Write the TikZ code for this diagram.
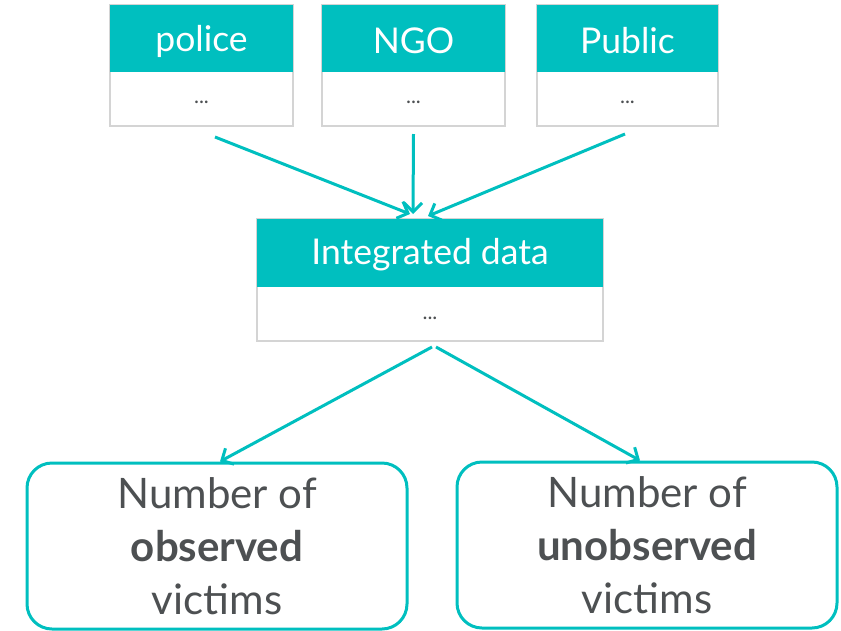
\documentclass[tikz,border=0pt]{standalone}
\usepackage{fontspec}
\setmainfont{Lato}
\usetikzlibrary{arrows.meta,calc}
\definecolor{tealc}{RGB}{0,191,191}
\definecolor{txt}{RGB}{77,80,82}
\definecolor{bord}{RGB}{212,212,212}
\begin{document}
\begin{tikzpicture}[x=1pt,y=-1pt,
  card/.style={draw=bord,line width=2pt,fill=white,inner sep=0pt,minimum height=121pt},
  head/.style={text=white,font=\fontsize{35.5}{40}\selectfont},
  dots/.style={text=txt,font=\fontsize{21}{24}\selectfont},
  result/.style={draw=tealc,line width=3pt,rounded corners=25pt,fill=white,inner sep=0pt,
     minimum width=380pt,minimum height=166pt,align=center,text=txt,
     font=\fontsize{42}{53}\selectfont},
  flow/.style={draw=tealc,line width=3pt,-{Straight Barb[length=9pt,width=18pt,line width=3pt]}}]
\useasboundingbox (0,0) rectangle (841,630);
% top cards
\node[card,minimum width=183pt] (police) at (201.5,65.5) {};
\node[card,minimum width=183pt] (ngo) at (413.5,65.5) {};
\node[card,minimum width=181pt] (public) at (627.5,65.5) {};
\foreach \n/\t in {police/police,ngo/NGO,public/Public}{
  \fill[tealc] ([xshift=1pt,yshift=-1pt]\n.north west) rectangle ([xshift=-1pt,yshift=-68pt]\n.north east);
  \node[head] (\n-h) at ($(\n.north)+(0,37)$) {\t};
  \node[dots] (\n-d) at ($(\n.north)+(0,98)$) {...};
}
% integrated
\node[card,minimum width=346pt,minimum height=122pt] (integ) at (430,280) {};
\fill[tealc] ([xshift=1pt,yshift=-1pt]integ.north west) rectangle ([xshift=-1pt,yshift=-69pt]integ.north east);
\node[head] (integ-h) at ($(integ.north)+(0,37)$) {Integrated data};
\node[dots] (integ-d) at ($(integ.north)+(0,100)$) {...};
% results
\node[result] (obs) at (217,546) {Number of\\\textbf{observed}\\victims};
\node[result] (unobs) at (647,545) {Number of\\\textbf{unobserved}\\victims};
% arrows
\draw[flow] ($(police.south)+(13.5,10)$) -- ($(integ.north)+(-20,-4)$);
\draw[flow] ($(ngo.south)+(0,7)$) -- ($(integ.north)+(-17,-4)$);
\draw[flow] ($(public.south)+(-2.5,7)$) -- ($(integ.north)+(-2,-2)$);
\draw[flow] ($(integ.south)+(2,5)$) -- ($(obs.north)+(3,0)$);
\draw[flow] ($(integ.south)+(6,5)$) -- ($(unobs.north)+(-7,0)$);
\end{tikzpicture}
\end{document}
